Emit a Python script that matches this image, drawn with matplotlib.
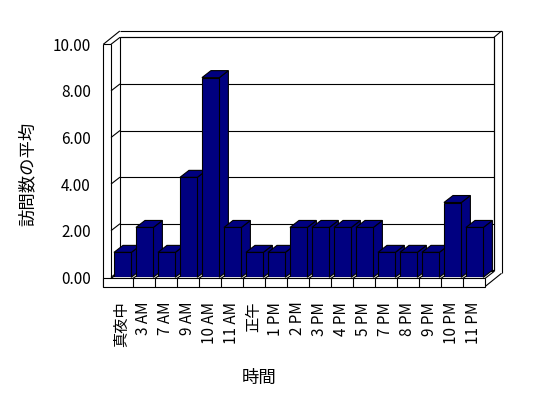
import matplotlib
matplotlib.use("Agg")
import matplotlib.pyplot as plt
from matplotlib.patches import Polygon, Rectangle

plt.rcParams['font.family'] = ['Noto Sans CJK JP', 'DejaVu Sans']

# --- data ---
hours = ["真夜中", "3 AM", "7 AM", "9 AM", "10 AM", "11 AM", "正午", "1 PM", "2 PM",
         "3 PM", "4 PM", "5 PM", "7 PM", "8 PM", "9 PM", "10 PM", "11 PM"]
avg_visits = [1.07, 2.14, 1.07, 4.29, 8.57, 2.14, 1.07, 1.07, 2.14,
              2.14, 2.14, 2.14, 1.07, 1.07, 1.07, 3.21, 2.14]
y_ticks = [0, 2, 4, 6, 8, 10]

NAVY = "#000080"
LW = 0.8

# --- 3d look (data units) ---
DX, DY = 0.41, 0.30      # depth of bars / floor
TX, TY = 0.34, 0.27      # back wall thickness
WALL = 0.35              # left wall thickness
FT, FB = -0.05, -0.40    # floor top / bottom
BAR_W = 0.79

fig = plt.figure(figsize=(5.48, 3.98), dpi=100)
ax = fig.add_axes([111 / 548, 120.7 / 398, 374 / 548, 233 / 398])
ax.set_facecolor("none")
x0, x1 = -0.5, len(hours) - 0.5
ymax = y_ticks[-1]
ax.set_xlim(x0, x1)
ax.set_ylim(0, ymax)
for s in ax.spines.values():
    s.set_visible(False)


def line(xs, ys, z=1):
    ax.plot(xs, ys, color="black", lw=LW, clip_on=False, zorder=z,
            solid_capstyle="butt")


def poly(pts, fc, z):
    ax.add_patch(Polygon(pts, closed=True, facecolor=fc, edgecolor="black",
                         lw=LW, clip_on=False, zorder=z))


# back wall + gridlines
poly([(x0 + DX, DY), (x1 + DX, DY), (x1 + DX, ymax + DY), (x0 + DX, ymax + DY)], "white", 1)
for v in y_ticks:
    line([x0 + DX, x1 + DX], [v + DY, v + DY], 1.1)
    line([x0, x0 + DX], [v, v + DY], 1.1)

# outer frame of the walls
ox = x0 - WALL
line([ox, ox], [FB, ymax], 1.2)
line([x0, x0], [FT, ymax], 1.2)
line([ox, x0], [ymax, ymax], 1.2)
line([ox, ox + DX + TX], [ymax, ymax + DY + TY], 1.2)
line([ox + DX + TX, x1 + DX + TX], [ymax + DY + TY] * 2, 1.2)
line([x1 + DX, x1 + DX + TX], [ymax + DY, ymax + DY + TY], 1.2)
line([x1 + DX + TX] * 2, [ymax + DY + TY, FB + DY + TY], 1.2)
line([x1 + DX] * 2, [ymax + DY, FT + DY], 1.2)
line([x1, x1 + DX + TX], [FB, FB + DY + TY], 1.2)

# floor
poly([(x0, FT), (x1, FT), (x1 + DX, FT + DY), (x0 + DX, FT + DY)], "white", 1.3)
ax.add_patch(Rectangle((ox, FB), x1 - ox, FT - FB, facecolor="white",
                       edgecolor="black", lw=LW, clip_on=False, zorder=1.3))
for i in range(len(hours) - 1):
    line([i + 0.5, i + 0.5], [FB, FT], 1.4)
    line([i + 0.5, i + 0.5 + DX], [FT, FT + DY], 1.35)

# bars, drawn left to right so each front hides the previous side
xs = [i + 0.03 for i in range(len(hours))]
bars = ax.bar(xs, avg_visits, width=BAR_W, color=NAVY, edgecolor="black", lw=LW, zorder=3)
for i, (b, v) in enumerate(zip(bars, avg_visits)):
    z = 3 + i * 0.01
    b.set_zorder(z + 0.005)
    bl = b.get_x()
    br = bl + b.get_width()
    poly([(br, 0), (br + DX, DY), (br + DX, v + DY), (br, v)], NAVY, z)
    poly([(bl, v), (br, v), (br + DX, v + DY), (bl + DX, v + DY)], NAVY, z)

# axes text
ax.set_yticks(y_ticks)
ax.set_yticklabels([f"{t:.2f}" for t in y_ticks], fontsize=11)
ax.set_xticks(range(len(hours)))
ax.set_xticklabels(hours, rotation=90, fontsize=11)
ax.tick_params(axis="y", length=0, pad=14.6)
ax.tick_params(axis="x", length=0, pad=17.6)

ax.set_ylabel("訪問数の平均", fontsize=12.5, va="center")
ax.yaxis.set_label_coords(-0.222, 0.443)
ax.set_xlabel("時間", fontsize=12.5, va="center")
ax.xaxis.set_label_coords(0.396, -0.431)

fig.savefig("out.png", dpi=100, facecolor="white")
